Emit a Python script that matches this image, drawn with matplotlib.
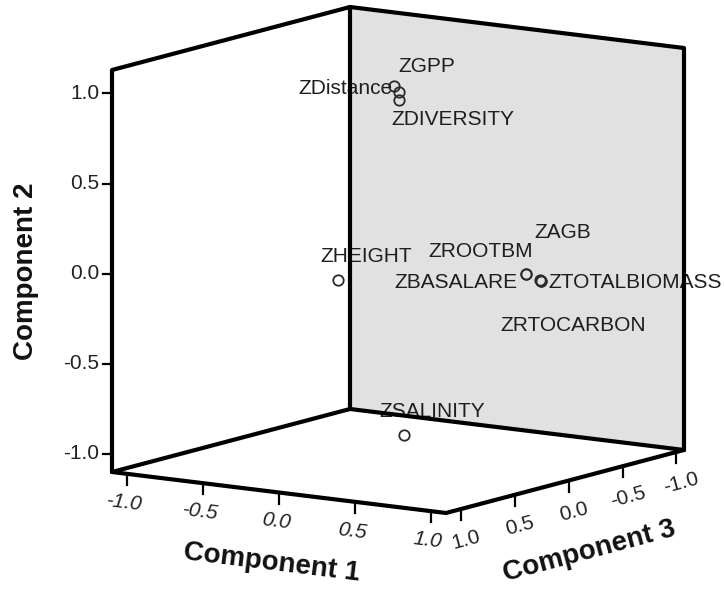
"""
Component plot in rotated space (3 components), redrawn as a flat
orthographic projection of the 3D loading cube.
"""
import matplotlib.pyplot as plt
import numpy as np

plt.rcParams['font.family'] = ['Liberation Sans', 'DejaVu Sans']

# ---------------------------------------------------------------------------
# Data: rotated component loadings
# ---------------------------------------------------------------------------
variables = ["ZGPP", "ZDistance", "ZDIVERSITY", "ZHEIGHT", "ZROOTBM",
             "ZBASALARE", "ZAGB", "ZTOTALBIOMASS", "ZRTOCARBON", "ZSALINITY"]
comp1 = [-0.02, 0.01, 0.00, 0.15, 0.885, 0.89, 0.925, 0.93, 0.925, 0.05]
comp2 = [0.98, 0.95, 0.90, 0.04, 0.04, 0.04, 0.00, -0.01, -0.01, -0.95]
comp3 = [0.04, 0.04, 0.03, 0.80, 0.095, 0.10, 0.025, 0.02, 0.015, 0.05]

tick_values = [-1.0, -0.5, 0.0, 0.5, 1.0]
tick_labels = ["-1.0", "-0.5", "0.0", "0.5", "1.0"]

# axis ranges of the cube
LIM1 = (-1.10, 1.10)
LIM2 = (-1.10, 1.13)
LIM3 = (-1.07, 1.14)

# ---------------------------------------------------------------------------
# Projection (pixel space of the 724x589 canvas)
# ---------------------------------------------------------------------------
ORIGIN = np.array([112.0, 472.0])   # corner (min c1, min c2, max c3)
V1 = np.array([334.0, 41.0])        # full comp1 range
V2 = np.array([0.0, -402.0])        # full comp2 range
V3 = np.array([238.0, -63.0])       # full comp3 range, max -> min


def project(c1, c2, c3):
    u1 = (np.asarray(c1, float) - LIM1[0]) / (LIM1[1] - LIM1[0])
    u2 = (np.asarray(c2, float) - LIM2[0]) / (LIM2[1] - LIM2[0])
    u3 = (LIM3[1] - np.asarray(c3, float)) / (LIM3[1] - LIM3[0])
    x = ORIGIN[0] + u1 * V1[0] + u2 * V2[0] + u3 * V3[0]
    y = ORIGIN[1] + u1 * V1[1] + u2 * V2[1] + u3 * V3[1]
    return x, y


# label placement: (dx, dy) in pixels from the marker, horizontal alignment
label_offsets = {
    "ZGPP": (4, -19, "left"),
    "ZDistance": (-6, -3, "right"),
    "ZDIVERSITY": (-7, 19, "left"),
    "ZHEIGHT": (-18, -24, "left"),
    "ZROOTBM": (7, -22, "right"),
    "ZBASALARE": (-9, 9, "right"),
    "ZAGB": (-5, -47, "left"),
    "ZTOTALBIOMASS": (8, 1, "left"),
    "ZRTOCARBON": (-40, 44, "left"),
    "ZSALINITY": (-25, -24, "left"),
}

fig = plt.figure(figsize=(7.24, 5.89), dpi=100)
ax = fig.add_axes([0, 0, 1, 1])
ax.set_xlim(0, 724)
ax.set_ylim(589, 0)
ax.axis("off")

# ---------------------------------------------------------------------------
# Cube
# ---------------------------------------------------------------------------
lo1, hi1 = LIM1
lo2, hi2 = LIM2
lo3, hi3 = LIM3
corner = {
    "A": project(lo1, hi2, hi3),
    "B": project(lo1, hi2, lo3),
    "C": project(hi1, hi2, lo3),
    "D": project(lo1, lo2, hi3),
    "E": project(hi1, lo2, hi3),
    "F": project(hi1, lo2, lo3),
    "G": project(lo1, lo2, lo3),
}

back = [corner[k] for k in "BCFG"]
ax.fill([p[0] for p in back], [p[1] for p in back], color="#e1e1e1",
        lw=0, zorder=0)

edge_kw = dict(color="black", lw=3.0, solid_capstyle="round",
               solid_joinstyle="round", zorder=5)
for path in ["DAB", "BCF", "BG", "DEF", "DGF"]:
    pts = [corner[k] for k in path]
    ax.plot([p[0] for p in pts], [p[1] for p in pts], **edge_kw)

# ---------------------------------------------------------------------------
# Ticks
# ---------------------------------------------------------------------------
tick_kw = dict(color="black", lw=1.6, zorder=5)
tick_font = dict(fontsize=15, color="#222222", zorder=5)

# component 2: vertical edge on the left
for v, lab in zip(tick_values, tick_labels):
    x, y = project(lo1, v, hi3)
    ax.plot([x - 9, x], [y, y], **tick_kw)
    ax.text(x - 13, y, lab, ha="right", va="center", **tick_font)

# component 1: front-left floor edge
for v, lab in zip(tick_values, tick_labels):
    x, y = project(v, lo2, hi3)
    ax.plot([x, x], [y, y + 11], **tick_kw)
    ax.text(x - 3, y + 29, lab, ha="center", va="center", rotation=-7,
            rotation_mode="anchor", style="italic", **tick_font)

# component 3: front-right floor edge
for v, lab in zip(tick_values, tick_labels):
    x, y = project(hi1, lo2, v)
    ax.plot([x, x], [y, y + 11], **tick_kw)
    ax.text(x + 5, y + 31, lab, ha="center", va="center", rotation=15,
            rotation_mode="anchor", **tick_font)

title_font = dict(fontsize=20, fontweight="bold", color="#111111",
                  ha="center", va="center", rotation_mode="anchor")
ax.text(26, 271, "Component 2", rotation=90, **title_font)
ax.text(272, 563, "Component 1", rotation=-7, **title_font)
ax.text(589, 551, "Component 3", rotation=15, **title_font)

# ---------------------------------------------------------------------------
# Loadings
# ---------------------------------------------------------------------------
px, py = project(comp1, comp2, comp3)
ax.plot(px, py, ls="none", marker="o", ms=7.5, mfc="none", mec="#2a2a2a",
        mew=1.3, zorder=3)

for name, x, y in zip(variables, px, py):
    dx, dy, ha = label_offsets[name]
    ax.text(x + dx, y + dy, name, ha=ha, va="center", fontsize=15,
            color="#1e1e1e", zorder=4, clip_on=False)

fig.savefig("out.png", dpi=100)
